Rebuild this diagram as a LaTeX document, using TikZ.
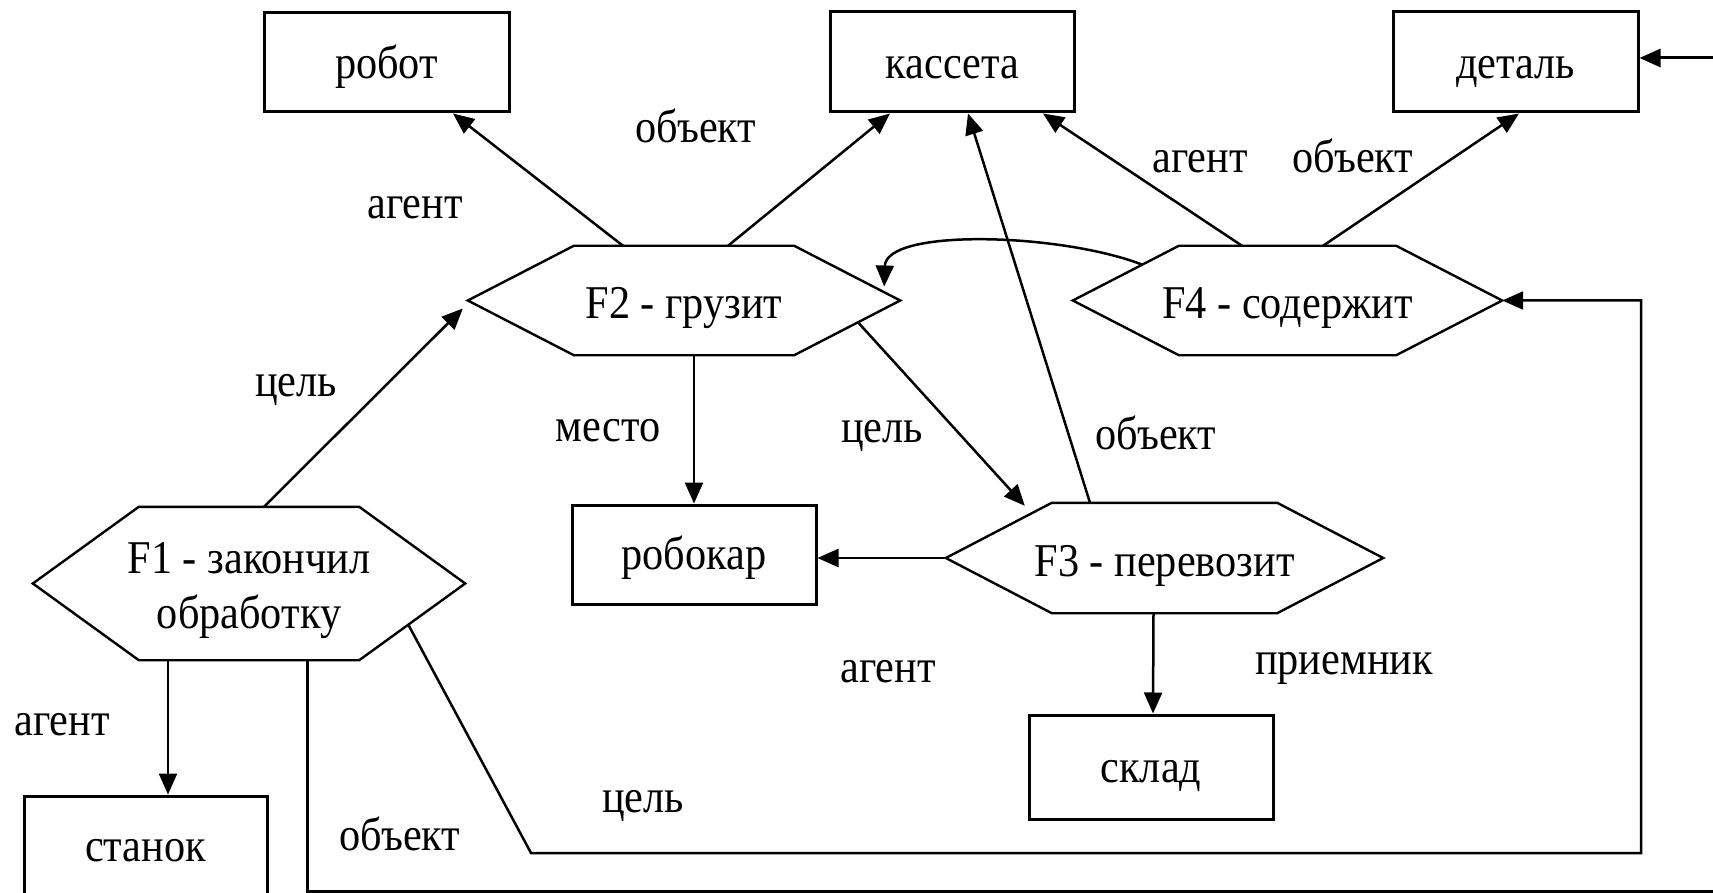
\documentclass[tikz,border=0pt]{standalone}
\usepackage{fontspec}
\setmainfont{Liberation Serif}[FakeStretch=0.9]
\usetikzlibrary{calc,arrows.meta}
\begin{document}
\begin{tikzpicture}[x=1pt,y=-1pt,
  every node/.style={font=\fontsize{47}{55}\selectfont},
  box/.style={draw, line width=3pt, inner sep=0pt, minimum width=244pt, minimum height=100pt, text height=40pt, text depth=10pt},
  hexnode/.style={inner sep=0pt, minimum width=432pt, minimum height=109pt, text height=46pt, text depth=10pt},
  hexline/.style={line width=2.4pt, line join=miter},
  lbl/.style={inner sep=0pt, text height=30pt, text depth=10pt},
  conn/.style={line width=2.5pt, -{Triangle[length=21pt,width=18pt]}},
  thickconn/.style={line width=3pt, -{Triangle[length=21pt,width=18pt]}}]
\useasboundingbox (0,0) rectangle (1713,893);

% boxes
\node[box, minimum width=245pt, minimum height=99pt, text height=43pt] (rb) at (386.5,62.5) {робот};
\node[box, text height=43pt] (ks) at (952.5,62) {кассета};
\node[box, minimum width=245pt, text height=43pt] (dt) at (1515.5,62) {деталь};
\node[box, minimum height=99pt] (rk) at (694,554.5) {робокар};
\node[box, minimum height=104pt] (sk) at (1151,767) {склад};
\node[box, minimum width=243pt] (st) at (145.5,846) {станок};

% hexagons
\node[hexnode, minimum height=153pt, text height=99pt, text depth=10pt] (f1) at (249,583.5)
  {\begin{tabular}[b]{@{}c@{}}F1 - закончил\\обработку\end{tabular}};
\node[hexnode] (f2) at (684,300.5) {F2 - грузит};
\node[hexnode, minimum width=437pt, minimum height=110pt] (f3) at (1164.5,558) {F3 - перевозит};
\node[hexnode, minimum width=429pt] (f4) at (1287.5,300.5) {F4 - содержит};
\foreach \h in {f1,f2,f3,f4}
  \draw[hexline] (\h.west) -- ([xshift=106pt]\h.north west) -- ([xshift=-106pt]\h.north east) -- (\h.east) -- ([xshift=-106pt]\h.south east) -- ([xshift=106pt]\h.south west) -- cycle;

% connectors
\draw[conn] ($(f1.north)+(15,0)$) -- ($(f2.west)+(-5,8)$);
\draw[conn] ($(f2.north)+(-61,0)$) -- ($(rb.south)+(66.5,0)$);
\draw[conn] ($(f2.north)+(44,0)$) -- ($(ks.south)+(-62.5,0)$);
\draw[conn] (rk.north |- f2.south) -- (rk.north);
\draw[conn] ($(f2.east)+(-42,22)$) -- ($(f3.north west)+(79,3)$);
\draw[conn] (f3.west) -- (f3.west -| rk.east);
\draw[conn] ($(f3.north)+(-74.5,0)$) -- ($(ks.south)+(15.5,0)$);
\draw[conn] ($(f3.south)+(-11,0)$) -- ($(sk.north)+(2,0)$);
\draw[conn] ($(f4.north)+(-45.5,0)$) -- ($(ks.south)+(90.5,0)$);
\draw[conn] ($(f4.north)+(35.5,0)$) -- ($(dt.south)+(3.5,0)$);
\draw[conn] ($(f4.west)+(69,-36)$) .. controls (1060,233) and (886,228) .. ($(f2.east)+(-16,-14)$);
\draw[conn] ($(f1.south)+(-81,0)$) -- ($(st.north)+(22.5,0)$);
\coordinate (ob1) at (307,891);
\coordinate (ob2) at (1722,58);
\draw[thickconn] ($(f1.south)+(58,0)$) -- (ob1) -| (ob2) -- ($(dt.east)+(0,-4)$);
\coordinate (g1) at (531,853);
\coordinate (g2) at (1641,300.5);
\draw[conn] ($(f1.east)+(-57,41)$) -- (g1) -| (g2) -- (f4.east);

% labels
\node[lbl] (la1) at (415,209) {агент};
\node[lbl] (la2) at (696,133) {объект};
\node[lbl] (la3) at (296,386) {цель};
\node[lbl] (la4) at (608,431) {место};
\node[lbl] (la5) at (882,432) {цель};
\node[lbl] (la6) at (1156,439) {объект};
\node[lbl] (la7) at (1200,163) {агент};
\node[lbl] (la8) at (1353,163) {объект};
\node[lbl] (la9) at (888,672) {агент};
\node[lbl] (la10) at (1344,664) {приемник};
\node[lbl] (la11) at (62,725) {агент};
\node[lbl] (la12) at (643,802) {цель};
\node[lbl] (la13) at (400,840) {объект};
\end{tikzpicture}
\end{document}
